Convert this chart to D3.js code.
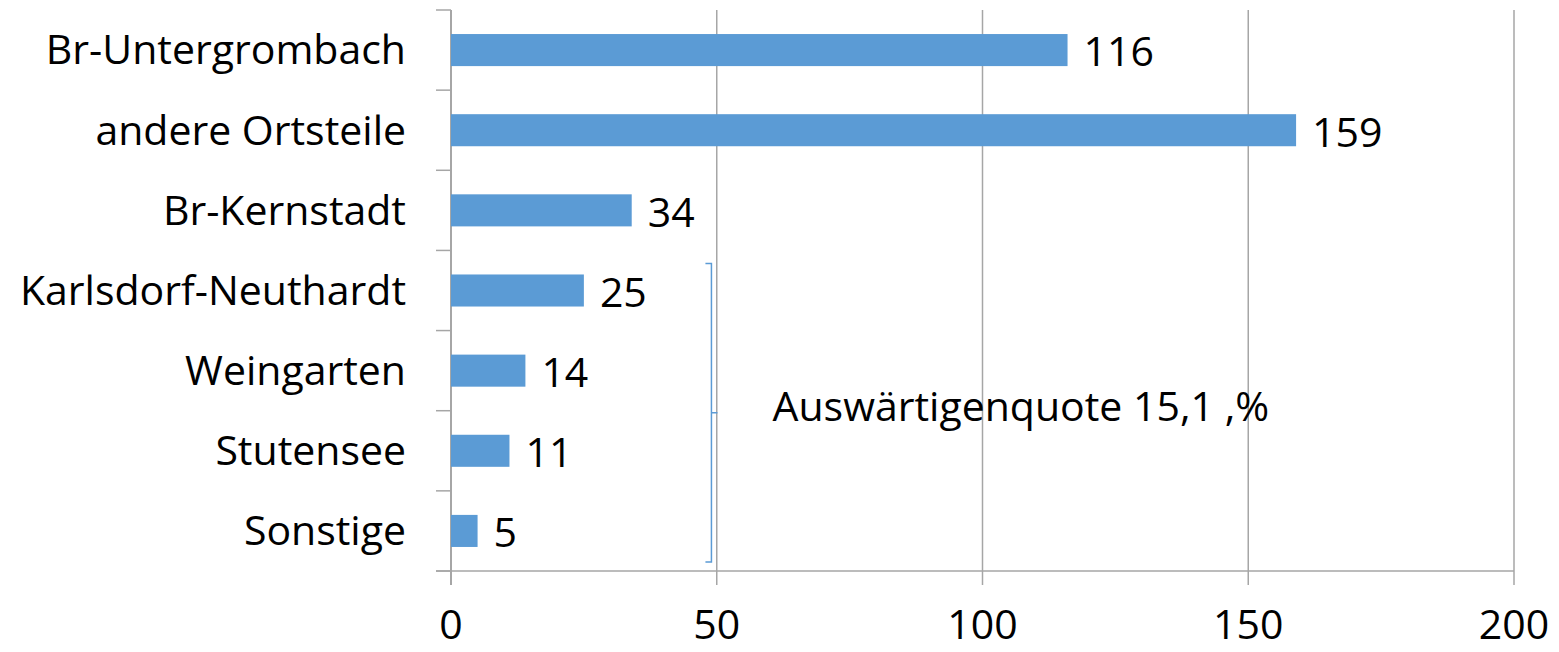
<!DOCTYPE html>
<html>
<head>
<meta charset="utf-8">
<script src="https://cdn.jsdelivr.net/npm/d3@7"></script>
<style>
    body { margin: 0; background: #fff; }
    text { font-family: "Open Sans", sans-serif; fill: #000; }
</style>
</head>
<body>
<div id="wrapper"></div>
<script>
const categories = [
    "Br-Untergrombach",
    "andere Ortsteile",
    "Br-Kernstadt",
    "Karlsdorf-Neuthardt",
    "Weingarten",
    "Stutensee",
    "Sonstige",
]
const values = [116, 159, 34, 25, 14, 11, 5]
const xTicks = [0, 50, 100, 150, 200]
const bracketFrom = "Karlsdorf-Neuthardt"
const bracketTo = "Sonstige"
const bracketLabel = "Auswärtigenquote 15,1 ,%"

function drawChart() {
    let dimensions = {
        width: 1559,
        height: 652,
        margin: { top: 10, right: 45, bottom: 81, left: 451 },
    }
    dimensions.boundedWidth = dimensions.width - dimensions.margin.left - dimensions.margin.right
    dimensions.boundedHeight = dimensions.height - dimensions.margin.top - dimensions.margin.bottom

    const fontSize = "41px"

    const wrapper = d3.select("#wrapper")
        .append("svg")
        .attr("width", dimensions.width)
        .attr("height", dimensions.height)

    const bounds = wrapper.append("g")
        .attr("transform", `translate(${dimensions.margin.left},${dimensions.margin.top})`)

    const xScaler = d3.scaleLinear()
        .domain([0, 200])
        .range([0, dimensions.boundedWidth])

    const yScaler = d3.scaleBand()
        .domain(categories)
        .range([0, dimensions.boundedHeight])
        .paddingInner(0.6)
        .paddingOuter(0.3)

    const gridColor = "#a6a6a6"

    // gridlines + bottom ticks
    bounds.append("g")
        .selectAll("line")
        .data(xTicks)
        .join("line")
        .attr("x1", d => xScaler(d))
        .attr("x2", d => xScaler(d))
        .attr("y1", 0)
        .attr("y2", dimensions.boundedHeight + 14)
        .attr("stroke", gridColor)
        .attr("stroke-width", 1.5)

    // bottom axis line
    bounds.append("line")
        .attr("x1", -15)
        .attr("x2", xScaler(200))
        .attr("y1", dimensions.boundedHeight)
        .attr("y2", dimensions.boundedHeight)
        .attr("stroke", gridColor)
        .attr("stroke-width", 1.5)

    // left axis line + category ticks
    bounds.append("line")
        .attr("x1", 0).attr("x2", 0)
        .attr("y1", 0).attr("y2", dimensions.boundedHeight + 14)
        .attr("stroke", gridColor)
        .attr("stroke-width", 2)

    const bandEdges = d3.range(categories.length + 1).map(i => i * dimensions.boundedHeight / categories.length)
    bounds.append("g")
        .selectAll("line")
        .data(bandEdges)
        .join("line")
        .attr("x1", -15).attr("x2", 0)
        .attr("y1", d => d).attr("y2", d => d)
        .attr("stroke", gridColor)
        .attr("stroke-width", 1.5)

    // bars
    bounds.append("g")
        .selectAll("rect")
        .data(values)
        .join("rect")
        .attr("x", 0)
        .attr("y", (d, i) => yScaler(categories[i]))
        .attr("width", d => xScaler(d))
        .attr("height", yScaler.bandwidth())
        .attr("fill", "#5b9bd5")

    // value labels
    bounds.append("g")
        .selectAll("text")
        .data(values)
        .join("text")
        .attr("x", d => xScaler(d) + 16)
        .attr("y", (d, i) => yScaler(categories[i]) + yScaler.bandwidth() / 2 + 2)
        .attr("dy", "0.35em")
        .style("font-size", fontSize)
        .text(d => d)

    // category labels
    bounds.append("g")
        .selectAll("text")
        .data(categories)
        .join("text")
        .attr("x", -45)
        .attr("y", d => yScaler(d) + yScaler.bandwidth() / 2)
        .attr("dy", "0.35em")
        .attr("text-anchor", "end")
        .style("font-size", fontSize)
        .text(d => d)

    // x tick labels
    bounds.append("g")
        .selectAll("text")
        .data(xTicks)
        .join("text")
        .attr("x", d => xScaler(d))
        .attr("y", dimensions.boundedHeight + 54)
        .attr("dy", "0.35em")
        .attr("text-anchor", "middle")
        .style("font-size", fontSize)
        .text(d => d)

    // bracket
    const step = dimensions.boundedHeight / categories.length
    const iFrom = categories.indexOf(bracketFrom)
    const iTo = categories.indexOf(bracketTo)
    const bTop = iFrom * step + 13
    const bBottom = (iTo + 1) * step - 9
    const bMid = (bTop + bBottom) / 2
    const bx = xScaler(49)
    bounds.append("path")
        .attr("d", `M${bx - 6},${bTop} H${bx} V${bBottom} H${bx - 6} M${bx},${bMid} H${bx + 6}`)
        .attr("fill", "none")
        .attr("stroke", "#5b9bd5")
        .attr("stroke-width", 1.5)

    bounds.append("text")
        .attr("x", xScaler(60.5))
        .attr("y", bMid - 6)
        .attr("dy", "0.35em")
        .style("font-size", fontSize)
        .text(bracketLabel)
}

drawChart()
</script>
</body>
</html>
